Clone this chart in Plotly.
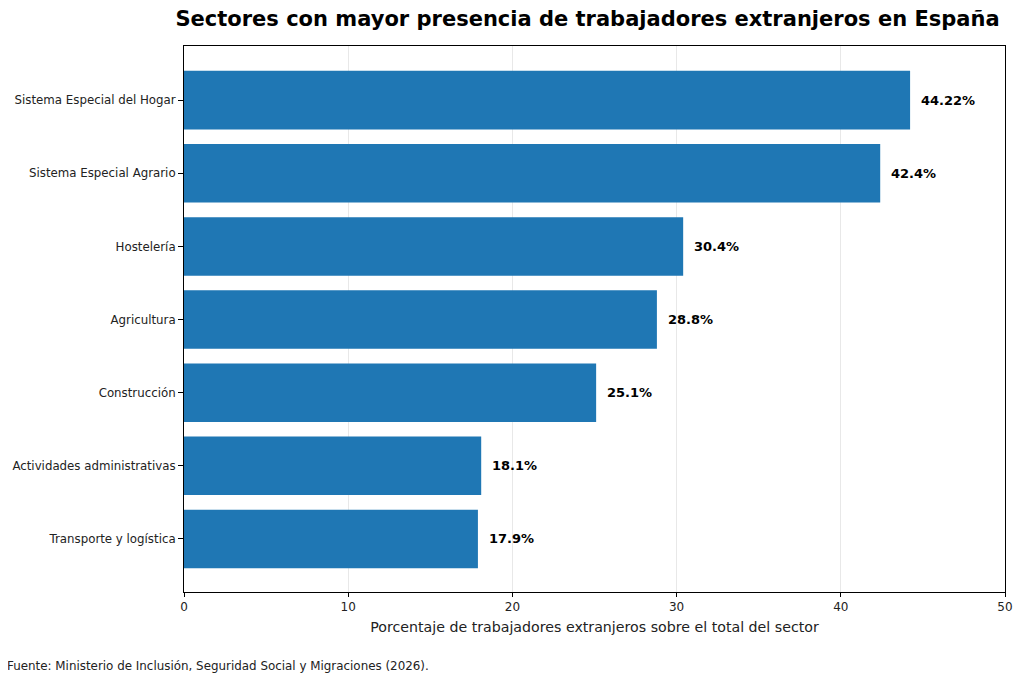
import plotly.graph_objects as go

# Data (bottom to top, as drawn)
sectores = [
    "Transporte y logística",
    "Actividades administrativas",
    "Construcción",
    "Agricultura",
    "Hostelería",
    "Sistema Especial Agrario",
    "Sistema Especial del Hogar",
]
porcentajes = [17.9, 18.1, 25.1, 28.8, 30.4, 42.4, 44.22]
etiquetas = [f"{v}%" for v in porcentajes]

FONT = "DejaVu Sans"
BLUE = "#1f77b4"

fig = go.Figure(
    go.Bar(
        x=porcentajes,
        y=list(range(len(sectores))),
        orientation="h",
        marker=dict(color=BLUE, line=dict(width=0)),
        width=0.8,
        hoverinfo="x+y",
    )
)

# value labels to the right of each bar
for i, (v, t) in enumerate(zip(porcentajes, etiquetas)):
    fig.add_annotation(
        x=v, y=i, text=f"<b>{t}</b>", showarrow=False,
        xanchor="left", xshift=9,
        font=dict(family=FONT, size=13, color="black"),
    )

# page has an 8px body margin, so the figure is a bit smaller than the window
fig.update_layout(
    width=1016,
    height=674,
    margin=dict(l=176, r=19, t=38, b=90, autoexpand=False),
    paper_bgcolor="white",
    plot_bgcolor="white",
    showlegend=False,
    bargap=0.2,
    font=dict(family=FONT, size=12, color="#222"),
    title=dict(
        text="<b>Sectores con mayor presencia de trabajadores extranjeros en España</b>",
        x=0.5704, xanchor="center", y=0.9837, yanchor="middle",
        font=dict(family=FONT, size=21, color="black"),
    ),
    xaxis=dict(
        range=[0, 50],
        dtick=10,
        showgrid=True,
        gridcolor="rgba(0,0,0,0.09)",
        gridwidth=1,
        zeroline=False,
        showline=True,
        linecolor="black",
        linewidth=1,
        mirror=True,
        ticks="outside",
        ticklen=4,
        tickcolor="black",
        automargin=False,
        tickfont=dict(family=FONT, size=12, color="#222"),
        title=dict(
            text="Porcentaje de trabajadores extranjeros sobre el total del sector",
            font=dict(family=FONT, size=14.2, color="#222"),
            standoff=8,
        ),
    ),
    yaxis=dict(
        range=[-0.725, 6.74],
        tickmode="array",
        tickvals=list(range(len(sectores))),
        ticktext=sectores,
        showgrid=False,
        zeroline=False,
        showline=True,
        linecolor="black",
        linewidth=1,
        mirror=True,
        ticks="outside",
        ticklen=5,
        tickcolor="black",
        automargin=False,
        tickfont=dict(family=FONT, size=11.8, color="#222"),
    ),
)

fig.add_annotation(
    text="Fuente: Ministerio de Inclusión, Seguridad Social y Migraciones (2026).",
    xref="paper", yref="paper", x=-179 / 821, y=-0.135,
    xanchor="left", yanchor="middle", showarrow=False,
    font=dict(family=FONT, size=11.9, color="#222"),
)

fig.write_html("out.html")
